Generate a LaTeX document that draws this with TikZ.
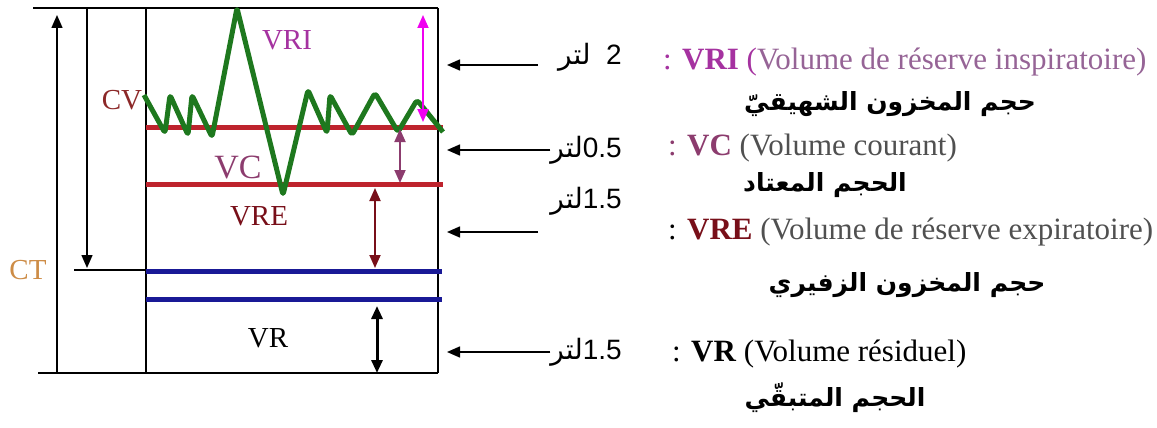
\documentclass[tikz,border=0pt]{standalone}
\usepackage{fontspec}
\setmainfont{Liberation Serif}
\newfontfamily\arabicfont[Script=Arabic]{DejaVu Sans}
\newfontfamily\numfont{Liberation Sans}
\TeXXeTstate=1
\usetikzlibrary{arrows.meta}
\definecolor{curvegreen}{RGB}{30,120,30}
\definecolor{levelred}{RGB}{190,35,45}
\definecolor{levelblue}{RGB}{25,25,150}
\definecolor{vrimag}{RGB}{240,0,240}
\definecolor{vritext}{RGB}{165,50,160}
\definecolor{vrilight}{RGB}{150,100,150}
\definecolor{vcpurple}{RGB}{140,60,110}
\definecolor{vrered}{RGB}{120,15,25}
\definecolor{cvred}{RGB}{140,40,40}
\definecolor{ctorange}{RGB}{205,140,70}
\definecolor{descgray}{RGB}{80,80,80}
\newcommand\artext[1]{{\arabicfont\bfseries\beginR #1\endR}}
\newcommand\arunit{{\arabicfont\beginR لتر\endR}}

\begin{document}
\begin{tikzpicture}[
    x=1pt, y=-1pt,
    lbl/.style={inner sep=0pt, font=\fontsize{29}{32}\selectfont},
    qty/.style={inner sep=0pt, font=\fontsize{28}{32}\selectfont\numfont},
    desc/.style={inner sep=0pt, anchor=west, font=\fontsize{31}{34}\selectfont},
    arline/.style={inner sep=0pt, font=\fontsize{25}{28}\selectfont},
    tri/.tip={Triangle[length=13pt,width=11pt]},
    arr/.style={-tri, line width=1.5pt},
    dbl/.style={tri-tri, line width=1.8pt},
    level/.style={line width=5pt}
]
    \useasboundingbox (0,0) rectangle (1157,428);

    % --- Frame ---
    \draw[line width=1.5pt] (33,8) -- (438,8);
    \draw[line width=1.5pt] (38,373) -- (438,373);
    \draw[line width=1.5pt] (146,8) -- (146,373);
    \draw[line width=1.5pt] (438,8) -- (438,373);
    \draw[line width=1.5pt] (74,270) -- (146,270);
    \coordinate (ctB) at (57,373);
    \coordinate (ctT) at (57,15);
    \coordinate (cvT) at (87,8);
    \coordinate (cvB) at (87,268);
    \draw[arr] (ctB) -- (ctT);
    \draw[arr] (cvT) -- (cvB);

    % --- Levels ---
    \draw[level, levelred] (146,127) -- (443,127);
    \draw[level, levelred] (146,184) -- (443,184);
    \draw[level, levelblue] (146,271) -- (442,271);
    \draw[level, levelblue] (146,299) -- (442,299);

    % --- Spirogram ---
    \draw[curvegreen, line width=5pt, line join=round, rounded corners=3pt]
        (144,95) -- (165,133) -- (170,95) -- (188,135) -- (192,95)
        -- (212,137) -- (237,8) -- (283,195) -- (308,90) -- (327,133)
        -- (330,95) -- (352,135) -- (375,93) -- (398,132) -- (417,100)
        -- (443,132);

    % --- Volume arrows ---
    \coordinate (vriT) at (423,15);
    \coordinate (vriB) at (423,122);
    \coordinate (vcT) at (400,129);
    \coordinate (vcB) at (400,183);
    \coordinate (vreT) at (375,188);
    \coordinate (vreB) at (375,268);
    \coordinate (vrT) at (377,306);
    \coordinate (vrB) at (377,373);
    \draw[dbl, vrimag] (vriT) -- (vriB);
    \draw[dbl, vcpurple] (vcT) -- (vcB);
    \draw[dbl, vrered] (vreT) -- (vreB);
    \draw[dbl, line width=3pt] (vrT) -- (vrB);

    % --- Labels ---
    \node[lbl, text=cvred] (cv) at (122,100) {CV};
    \node[lbl, text=vritext] (vri) at (287,40) {VRI};
    \node[lbl, text=vcpurple, font=\fontsize{34}{36}\selectfont] (vc) at (238,168) {VC};
    \node[lbl, text=vrered] (vre) at (259,216) {VRE};
    \node[lbl] (vr) at (268,338) {VR};
    \node[lbl, text=ctorange] (ct) at (28,270) {CT};

    % --- Quantities ---
    \node[qty, anchor=east] (q1) at (622,57) {\arunit\ \ 2};
    \node[qty, anchor=east] (q2) at (622,150) {\arunit0.5};
    \node[qty, anchor=east] (q3) at (622,201) {\arunit1.5};
    \node[qty, anchor=east] (q4) at (622,352) {\arunit1.5};
    \coordinate (t1) at (447,65);
    \coordinate (t2) at (447,150);
    \coordinate (t3) at (447,232);
    \coordinate (t4) at (447,352);
    \coordinate (s1) at (538,65);
    \coordinate (s3) at (538,232);
    \draw[arr] (s1) -- (t1);
    \draw[arr] (q2.west) -- (t2);
    \draw[arr] (s3) -- (t3);
    \draw[arr] (q4.west) -- (t4);

    % --- Descriptions ---
    \node[desc, text=vrilight] (d1) at (663,62) {\textcolor{vritext}{: \textbf{VRI} (}Volume de réserve inspiratoire)};
    \node[arline] (a1) at (890,104) {\artext{حجم المخزون الشهيقيّ}};
    \node[desc, text=descgray] (d2) at (668,148) {\textcolor{vcpurple}{: \textbf{VC}} (Volume courant)};
    \node[arline] (a2) at (825,185) {\artext{الحجم المعتاد}};
    \node[desc, text=descgray] (d3) at (668,232) {\textcolor{black}{:} \textcolor{vrered}{\textbf{VRE}} (Volume de réserve expiratoire)};
    \node[arline] (a3) at (907,285) {\artext{حجم المخزون الزفيري}};
    \node[desc] (d4) at (672,354) {: \textbf{VR} (Volume résiduel)};
    \node[arline] (a4) at (835,398) {\artext{الحجم المتبقّي}};
\end{tikzpicture}
\end{document}
